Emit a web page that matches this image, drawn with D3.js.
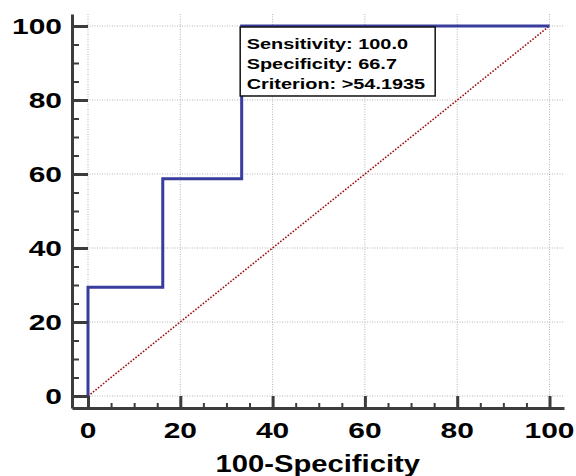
<!DOCTYPE html>
<html><head><meta charset="utf-8">
<script src="https://cdn.jsdelivr.net/npm/d3@7"></script>
<style>body{margin:0;background:#fff}svg{display:block}</style>
</head><body>
<svg id="c" width="576" height="476"></svg>
<script>
const rocX = [0, 0, 16.2, 16.2, 33.3, 33.3, 100];
const rocY = [0, 29.4, 29.4, 58.7, 58.7, 100, 100];
const diagX = [0, 100];
const diagY = [0, 100];
const majorTicks = [0, 20, 40, 60, 80, 100];
const minorTicks = [5,10,15,25,30,35,45,50,55,65,70,75,85,90,95];
const xTitle = "100-Specificity";
const annotLines = ["Sensitivity: 100.0", "Specificity: 66.7", "Criterion: >54.1935"];
const annotAt = [33.3, 100];

const svg = d3.select("#c");
const FONT = "'Liberation Sans', Arial, sans-serif";
const x = d3.scaleLinear().domain([-3.467, 103.14]).range([72, 564]);
const y = d3.scaleLinear().domain([-3.24, 103.24]).range([408, 14]);

// grid
const grid = svg.append("g").attr("stroke", "#b4b4b4").attr("stroke-width", 1).attr("stroke-dasharray", "1,1.5");
grid.selectAll(".gv").data(majorTicks).join("line")
  .attr("x1", d => x(d)).attr("x2", d => x(d)).attr("y1", y.range()[1]).attr("y2", y.range()[0]);
grid.selectAll(".gh").data(majorTicks).join("line")
  .attr("y1", d => y(d)).attr("y2", d => y(d)).attr("x1", x.range()[0]).attr("x2", x.range()[1]);

// diagonal
svg.append("path")
  .attr("d", d3.line().x((d,i)=>x(diagX[i])).y((d,i)=>y(diagY[i]))(diagX))
  .attr("fill","none").attr("stroke","#a01010").attr("stroke-width",1.6).attr("stroke-dasharray","1.6,1.6");

// ROC
svg.append("path")
  .attr("d", d3.line().x((d,i)=>x(rocX[i])).y((d,i)=>y(rocY[i]))(rocX))
  .attr("fill","none").attr("stroke","#383c9c").attr("stroke-width",3).attr("stroke-linejoin","miter");

// axes
const axCol = "#3c3c3c";
function styleAxis(g, w){
  g.selectAll("path").attr("stroke", axCol).attr("stroke-width", 3);
  g.selectAll("line").attr("stroke", axCol).attr("stroke-width", w);
  g.selectAll("text").remove();
}
svg.append("g").attr("transform","translate(0,408)")
  .call(d3.axisBottom(x).tickValues(minorTicks).tickSizeInner(-5).tickSizeOuter(0))
  .call(g=>styleAxis(g,2)).select(".domain").remove();
svg.append("g").attr("transform","translate(0,408)")
  .call(d3.axisBottom(x).tickValues(majorTicks).tickSizeInner(-12).tickSizeOuter(0))
  .call(g=>styleAxis(g,3));
svg.append("g").attr("transform","translate(72,0)")
  .call(d3.axisLeft(y).tickValues(minorTicks).tickSizeInner(-7).tickSizeOuter(0))
  .call(g=>styleAxis(g,2)).select(".domain").remove();
svg.append("g").attr("transform","translate(72,0)")
  .call(d3.axisLeft(y).tickValues(majorTicks).tickSizeInner(-16).tickSizeOuter(0))
  .call(g=>styleAxis(g,3));

// tick labels
function stext(parent, tx, ty, s, size, sx, anchor){
  return parent.append("text").attr("transform", `translate(${tx},${ty}) scale(${sx},1)`)
    .attr("text-anchor", anchor).attr("font-family", FONT).attr("font-weight","bold")
    .attr("font-size", size).attr("fill","#000").text(s);
}
const lab = svg.append("g");
majorTicks.forEach(v => stext(lab, x(v), 437.5, String(v), 22, 1.36, "middle"));
majorTicks.forEach(v => stext(lab, 62, y(v)+8, String(v), 22, 1.36, "end"));
stext(lab, (x(0)+x(100))/2 - 1, 471.5, xTitle, 23, 1.27, "middle");

// annotation
const bx = x(annotAt[0]) - 1.5, by = y(annotAt[1]) + 1;
svg.append("rect").attr("x", bx).attr("y", by).attr("width", 195).attr("height", 69)
  .attr("fill","#fff").attr("stroke","#111").attr("stroke-width",1.5);
annotLines.forEach((t,i)=> stext(svg, bx+6.5, by+22.5+i*19.6, t, 15.3, 1.3, "start"));
</script>
</body></html>
